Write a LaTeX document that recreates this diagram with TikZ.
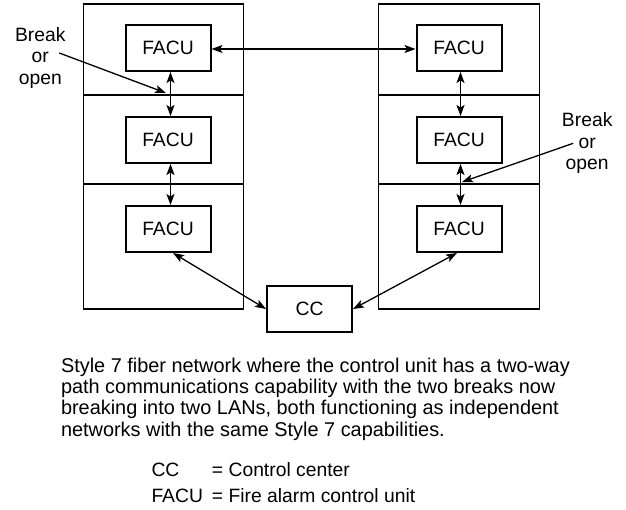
\documentclass[tikz,border=0pt]{standalone}
\usepackage{fontspec}
\setmainfont{Liberation Sans}
\usetikzlibrary{arrows.meta,positioning}
\tikzset{
  font=\fontsize{19.3}{21.7}\selectfont,
  cell/.style ={draw, line width=1.3pt, inner sep=0pt, outer sep=0pt, minimum width=160pt},
  unit/.style ={draw, line width=2pt, inner sep=0pt, minimum width=85pt, minimum height=46pt},
  arr/.style  ={{Stealth[length=11pt, width=8pt, inset=2.5pt]}-{Stealth[length=11pt, width=8pt, inset=2.5pt]}, line width=1.3pt},
  ptr/.style  ={-{Stealth[length=11pt, width=8pt, inset=2.5pt]}, line width=1.3pt},
  note/.style ={align=center, inner sep=0pt},
}
\begin{document}
\begin{tikzpicture}[x=1pt, y=-1pt]
  \useasboundingbox (0,0) rectangle (626,509);

  \node[cell, minimum height=91pt, anchor=north] (l1) at (163.8,4) {};
  \node[cell, minimum height=89pt, below=0pt of l1] (l2) {};
  \node[cell, minimum height=125pt, below=0pt of l2] (l3) {};
  \node[cell, minimum width=161pt, minimum height=91pt, anchor=north] (r1) at (458.8,4) {};
  \node[cell, minimum width=161pt, minimum height=89pt, below=0pt of r1] (r2) {};
  \node[cell, minimum width=161pt, minimum height=125pt, below=0pt of r2] (r3) {};

  \node[unit]                   (la) at (168,48) {FACU};
  \node[unit, below=44pt of la] (lb) {FACU};
  \node[unit, below=41pt of lb] (lc) {FACU};
  \node[unit, right=204pt of la] (ra) {FACU};
  \node[unit, below=44pt of ra] (rb) {FACU};
  \node[unit, below=41pt of rb] (rc) {FACU};
  \node[unit]                   (cc) at (309.5,309) {CC};

  \draw[arr] ([yshift=-1pt]la.east) -- ([yshift=-1pt]ra.west);
  \draw[arr] ([xshift=2.5pt]la.south) -- ([xshift=2.5pt]lb.north);
  \draw[arr] ([xshift=2.5pt]lb.south) -- ([xshift=2.5pt]lc.north);
  \draw[arr] ([xshift=1.5pt]ra.south) -- ([xshift=1.5pt]rb.north);
  \draw[arr] ([xshift=1.5pt]rb.south) -- ([xshift=1.5pt]rc.north);
  \draw[arr] ([xshift=5pt]lc.south) -- (cc.west);
  \draw[arr] ([xshift=-2pt]rc.south) -- (cc.east);

  \node[note, anchor=north] (brkl) at (40.3,27.1)  {Break\\or\\open};
  \node[note, anchor=north] (brkr) at (587.2,112.4) {Break\\or\\open};
  \coordinate (hitl) at (166,93);
  \coordinate (hitr) at (462,182);
  \draw[ptr] ([xshift=19pt, yshift=5pt]brkl.center) -- (hitl);
  \draw[ptr] ([xshift=-14pt]brkr.center) -- (hitr);

  \node[anchor=north west, align=left, inner sep=0pt, font=\fontsize{19.9}{21.2}\selectfont] (cap) at (60.8,357.8)
    {Style 7 fiber network where the control unit has a two-way\\path communications capability with the two breaks now\\breaking into two LANs, both functioning as independent\\networks with the same Style 7 capabilities.};
  \node[anchor=north west, inner sep=0pt, font=\fontsize{19.3}{25.6}\selectfont] (key) at (151.3,458.8)
    {\begin{tabular}{@{}l@{\hspace{9pt}}l@{}}CC & = Control center\\FACU & = Fire alarm control unit\end{tabular}};
\end{tikzpicture}
\end{document}
